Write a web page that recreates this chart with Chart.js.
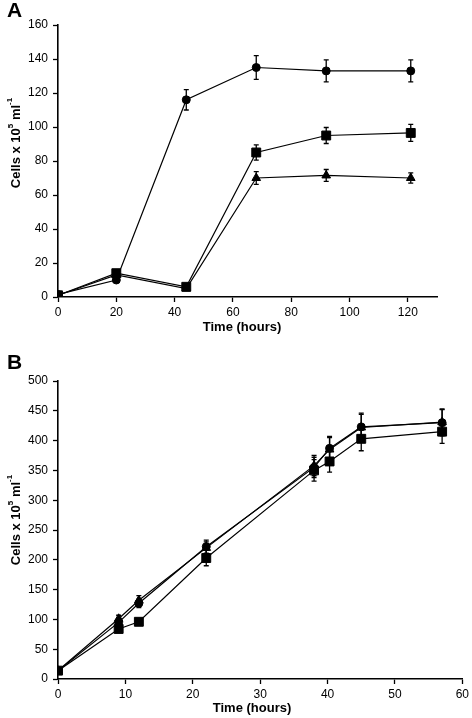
<!DOCTYPE html>
<html>
<head>
<meta charset="utf-8">
<script src="https://cdn.jsdelivr.net/npm/chart.js@4.4.0/dist/chart.umd.min.js"></script>
<style>
  body { margin: 0; background: #fff; }
  .panel { position: absolute; left: 0; }
</style>
</head>
<body>
<div class="panel" style="top:0px"><canvas id="chartA" width="472" height="350"></canvas></div>
<div class="panel" style="top:350px"><canvas id="chartB" width="472" height="368"></canvas></div>
<script>
// panel A
const timeA = [0, 20, 44, 68, 92, 121];
const circleA = [1.5, 10, 116, 135, 133, 133];
const circleAErr = [0, 0, 6, 7, 6.5, 6.5];
const squareA = [1, 14, 6, 85, 95, 96.5];
const squareAErr = [0, 0, 0, 4.5, 4.7, 5];
const triangleA = [1, 13, 5, 70, 71.5, 70];
const triangleAErr = [0, 0, 0, 3.7, 3.5, 3];
const xTicksA = [0, 20, 40, 60, 80, 100, 120];
const yTicksA = [0, 20, 40, 60, 80, 100, 120, 140, 160];

// panel B
const timeB = [0, 9, 12, 22, 38, 40.3, 45, 57];
const circleB = [14, 95, 127, 222, 355, 387, 423, 430];
const circleBErr = [0, 5, 7, 11, 17, 20, 23, 22];
const triangleB = [14, 101, 132, 220, 358, 385, 422, 431];
const triangleBErr = [0, 6, 8, 10, 17, 20, 22, 22];
const squareB = [14, 84, 96, 203, 350, 365, 403, 415];
const squareBErr = [0, 0, 0, 13, 18, 18, 20, 19.5];
const xTicksB = [0, 10, 20, 30, 40, 50, 60];
const yTicksB = [0, 50, 100, 150, 200, 250, 300, 350, 400, 450, 500];

const toPoints = (xs, ys) => xs.map((x, i) => ({ x: x, y: ys[i] }));

const errorBars = {
  id: 'errorBars',
  beforeDatasetsDraw(chart) {
    const ctx = chart.ctx;
    const xs = chart.scales.x, ys = chart.scales.y;
    ctx.save();
    ctx.strokeStyle = '#000';
    ctx.lineWidth = 1.3;
    chart.data.datasets.forEach(ds => {
      if (!ds.errors) return;
      ds.data.forEach((p, i) => {
        const e = ds.errors[i];
        if (!e) return;
        const px = xs.getPixelForValue(p.x);
        const top = ys.getPixelForValue(p.y + e);
        const bot = ys.getPixelForValue(p.y - e);
        ctx.beginPath();
        ctx.moveTo(px, top); ctx.lineTo(px, bot);
        ctx.moveTo(px - 2.5, top); ctx.lineTo(px + 2.5, top);
        ctx.moveTo(px - 2.5, bot); ctx.lineTo(px + 2.5, bot);
        ctx.stroke();
      });
    });
    ctx.restore();
  }
};

const panelText = {
  id: 'panelText',
  afterDraw(chart, args, o) {
    const ctx = chart.ctx;
    ctx.save();
    ctx.fillStyle = '#000';
    ctx.font = 'bold 21px Arial';
    ctx.textAlign = 'left';
    ctx.textBaseline = 'alphabetic';
    ctx.fillText(o.letter, 7, o.letterY);

    ctx.font = 'bold 13px Arial';
    ctx.textAlign = 'center';
    ctx.textBaseline = 'middle';
    ctx.fillText('Time (hours)', o.xTitleX, o.xTitleY);

    // y title with superscripts
    const parts = [
      ['Cells x 10', 'bold 13px Arial', 0],
      ['5', 'bold 8px Arial', -5],
      [' ml', 'bold 13px Arial', 0],
      ['-1', 'bold 8px Arial', -6]
    ];
    let total = 0;
    parts.forEach(p => { ctx.font = p[1]; total += ctx.measureText(p[0]).width; });
    ctx.translate(o.yTitleX, o.yTitleY);
    ctx.rotate(-Math.PI / 2);
    ctx.textAlign = 'left';
    ctx.textBaseline = 'middle';
    let cx = -total / 2;
    parts.forEach(p => {
      ctx.font = p[1];
      ctx.fillText(p[0], cx, p[2]);
      cx += ctx.measureText(p[0]).width;
    });
    ctx.restore();
  }
};

function lineSet(label, xs, ys, errs, style, radius) {
  return {
    label: label,
    data: toPoints(xs, ys),
    errors: errs,
    showLine: true,
    borderColor: '#000',
    borderWidth: 1.2,
    backgroundColor: '#000',
    pointStyle: style,
    pointRadius: radius,
    pointBorderColor: '#000',
    pointBackgroundColor: '#000',
    pointBorderWidth: 1
  };
}

function makeChart(id, cfg) {
  const tickFont = { family: 'Arial', size: 12 };
  return new Chart(document.getElementById(id), {
    type: 'scatter',
    data: { datasets: cfg.datasets },
    options: {
      responsive: false,
      animation: false,
      layout: { padding: { left: 0, top: cfg.top, right: cfg.right, bottom: 0 } },
      plugins: {
        legend: { display: false },
        tooltip: { enabled: false },
        panelText: cfg.text
      },
      scales: {
        x: {
          min: cfg.xMin, max: cfg.xMax,
          afterBuildTicks: s => { s.ticks = cfg.xTicks.map(v => ({ value: v })); },
          afterFit: s => { s.height = cfg.xHeight; },
          grid: { drawOnChartArea: false, drawTicks: true, tickLength: 5, color: '#000', tickWidth: 1.3 },
          border: { color: '#000', width: 1.6 },
          ticks: { color: '#000', font: tickFont, padding: 3, maxRotation: 0 }
        },
        y: {
          min: cfg.yMin, max: cfg.yMax,
          afterBuildTicks: s => { s.ticks = cfg.yTicks.map(v => ({ value: v })); },
          afterFit: s => { s.width = 58; },
          grid: { drawOnChartArea: false, drawTicks: true, tickLength: 5, color: '#000', tickWidth: 1.3 },
          border: { color: '#000', width: 1.6 },
          ticks: { color: '#000', font: tickFont, padding: 5 }
        }
      }
    },
    plugins: [errorBars, panelText]
  });
}

makeChart('chartA', {
  datasets: [
    lineSet('square', timeA, squareA, squareAErr, 'rect', 6.3),
    lineSet('circle', timeA, circleA, circleAErr, 'circle', 4),
    lineSet('triangle', timeA, triangleA, triangleAErr, 'triangle', 5)
  ],
  xMin: 0, xMax: 130, xTicks: xTicksA,
  yMin: 0, yMax: 160, yTicks: yTicksA,
  top: 25, right: 35, xHeight: 53,
  text: { letter: 'A', letterY: 17, xTitleX: 242, xTitleY: 327, yTitleX: 16, yTitleY: 143 }
});

makeChart('chartB', {
  datasets: [
    lineSet('square', timeB, squareB, squareBErr, 'rect', 6.3),
    lineSet('triangle', timeB, triangleB, triangleBErr, 'triangle', 5),
    lineSet('circle', timeB, circleB, circleBErr, 'circle', 4)
  ],
  xMin: 0, xMax: 60, xTicks: xTicksB,
  yMin: 0, yMax: 500, yTicks: yTicksB,
  top: 31, right: 9, xHeight: 39,
  text: { letter: 'B', letterY: 19, xTitleX: 252, xTitleY: 358, yTitleX: 16, yTitleY: 170 }
});
</script>
</body>
</html>
